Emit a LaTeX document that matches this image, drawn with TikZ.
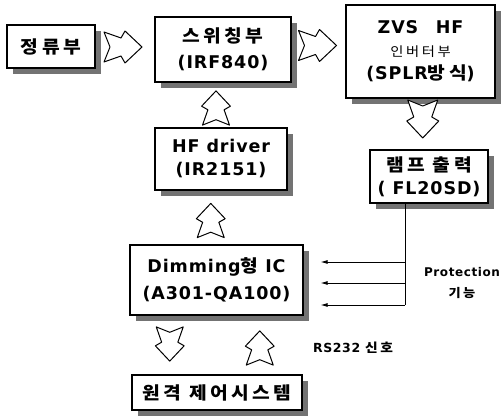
\documentclass[tikz,border=0pt]{standalone}
\usepackage{fontspec}
\setmainfont{DejaVu Sans}[LetterSpace=5]
\newfontfamily\kr{Noto Sans CJK KR}[FakeStretch=1.1,LetterSpace=20]
\usetikzlibrary{positioning,arrows.meta,shadows,calc}

\tikzset{
  blk/.style={draw,line width=1.2pt,fill=white,inner sep=0pt,align=center,
    font=\bfseries\fontsize{17.5}{23}\selectfont,
    general shadow={fill=black!55,shadow xshift=6pt,shadow yshift=-6pt}},
  harrow/.pic={\draw[line width=1pt,fill=white,line join=round]
    (-19,-15)--(-2,-9)--(2,-16)--(19,0)--(2,16)--(-2,9)--(-19,15)--(-13,0)--cycle;},
  sig/.style={-{Latex[length=7pt,width=4pt]},shorten >=17pt},
  note/.style={font=\bfseries\fontsize{12}{21}\selectfont,align=center}
}

\begin{document}
\begin{tikzpicture}[x=1pt,y=-1pt]
\useasboundingbox (0,0) rectangle (502,419);
\node[blk,minimum width=88pt,minimum height=43pt] (rect) at (51,46.5) {{\kr 정류부}};
\node[blk,minimum width=136pt,minimum height=65pt] (sw) at (223,49.5) {{\kr 스위칭부}\\[3pt](IRF840)};
\node[blk,minimum width=149pt,minimum height=93pt] (zvs) at (420.5,51.5) {ZVS\hspace{1em}HF\\{\kr\mdseries\fontsize{13}{13}\selectfont 인버터부}\\(SPLR{\kr 방식})};
\node[blk,minimum width=118pt,minimum height=53pt] (lamp) at (429,176.5) {{\kr 램프 출력}\\( FL20SD)};
\node[blk,minimum width=132pt,minimum height=62pt] (drv) at (221,159) {HF driver\\(IR2151)};
\node[blk,minimum width=173pt,minimum height=70pt] (dim) at (216.5,280) {Dimming{\kr 형} IC\\[4pt](A301-QA100)};
\node[blk,minimum width=170pt,minimum height=35pt] (rem) at (217,392.5) {{\kr 원격 제어시스템}};

\pic at ($(rect.east)!.5!(sw.west)+(-2,-1)$) {harrow};
\pic at ($(sw.east)!.5!(zvs.west)+(-1,-5)$) {harrow};
\pic[rotate=-90] at ($(zvs.south)!.5!(lamp.north)+(-2,-5)$) {harrow};
\pic[rotate=90,scale=.9] at ($(sw.south)!.5!(drv.north)+(-6,3)$) {harrow};
\pic[rotate=90,scale=.9] at ($(drv.south)!.5!(dim.north)+(-8,3)$) {harrow};
\pic[rotate=-90,scale=.9] at ($(dim.south)!.5!(rem.north)+(-47,-1)$) {harrow};
\pic[rotate=90,scale=.9] at ($(dim.south)!.5!(rem.north)+(43,3)$) {harrow};

\coordinate (p1) at (405,262);
\coordinate (p2) at (405,283);
\coordinate (p3) at (405,305);
\draw[line width=.8pt] (lamp.south -| p3) -- (p3);
\foreach \c in {p1,p2,p3} \draw[line width=.8pt,sig] (\c) -- (\c -| dim.east);
\node[note] (prot) at (462,283) {Protection\\{\kr 기능}};
\node[note,font=\bfseries\fontsize{12.5}{14}\selectfont] (rs) at (353,348) {RS232 {\kr 신호}};
\end{tikzpicture}
\end{document}
